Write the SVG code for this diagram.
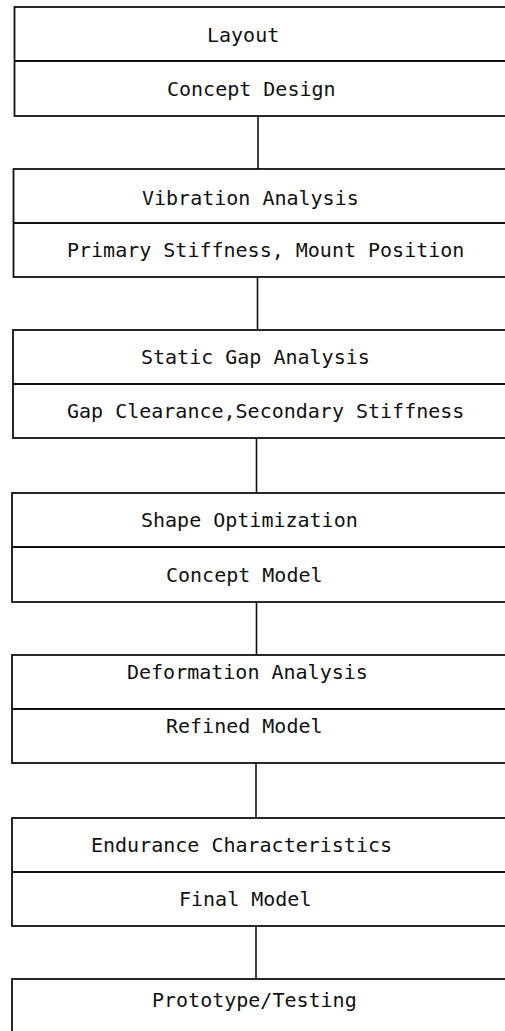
<svg xmlns="http://www.w3.org/2000/svg" width="505" height="1031" viewBox="0 0 505 1031">
<style>
.box{fill:#fff;stroke:#111;stroke-width:1.8}
.div{stroke:#111;stroke-width:1.8}
.con{stroke:#111;stroke-width:1.6;fill:none}
.t{font-family:"DejaVu Sans Mono","Liberation Mono",monospace;font-size:20px;fill:#111}
</style>
<rect width="505" height="1031" fill="#fff"/>
<g id="connectors">
<line class="con" x1="258" y1="116" x2="258" y2="169"/>
<line class="con" x1="257.5" y1="277" x2="257.5" y2="330"/>
<line class="con" x1="256.5" y1="438" x2="256.5" y2="493"/>
<line class="con" x1="256.5" y1="602" x2="256.5" y2="655"/>
<line class="con" x1="256" y1="763" x2="256" y2="818"/>
<line class="con" x1="256" y1="926" x2="256" y2="979"/>
</g>
<g id="n1">
<rect class="box" x="14.5" y="7" width="520" height="109"/>
<line class="div" x1="14.5" y1="61" x2="534" y2="61"/>
<text class="t" x="207" y="42">Layout</text>
<text class="t" x="167" y="96">Concept Design</text>
</g>
<g id="n2">
<rect class="box" x="13.5" y="169" width="520" height="108"/>
<line class="div" x1="13.5" y1="223" x2="534" y2="223"/>
<text class="t" x="142" y="205">Vibration Analysis</text>
<text class="t" x="67" y="257">Primary Stiffness, Mount Position</text>
</g>
<g id="n3">
<rect class="box" x="13" y="330" width="520" height="108"/>
<line class="div" x1="13" y1="384" x2="534" y2="384"/>
<text class="t" x="141" y="364">Static Gap Analysis</text>
<text class="t" x="67" y="418">Gap Clearance,Secondary Stiffness</text>
</g>
<g id="n4">
<rect class="box" x="12" y="493" width="520" height="109"/>
<line class="div" x1="12" y1="547" x2="534" y2="547"/>
<text class="t" x="141" y="527">Shape Optimization</text>
<text class="t" x="166" y="582">Concept Model</text>
</g>
<g id="n5">
<rect class="box" x="12" y="655" width="520" height="108"/>
<line class="div" x1="12" y1="709" x2="534" y2="709"/>
<text class="t" x="127" y="679">Deformation Analysis</text>
<text class="t" x="166" y="733">Refined Model</text>
</g>
<g id="n6">
<rect class="box" x="12" y="818" width="520" height="108"/>
<line class="div" x1="12" y1="872" x2="534" y2="872"/>
<text class="t" x="91" y="852">Endurance Characteristics</text>
<text class="t" x="179" y="906">Final Model</text>
</g>
<g id="n7">
<rect class="box" x="12" y="979" width="520" height="80"/>
<text class="t" x="152" y="1007">Prototype/Testing</text>
</g>
</svg>
